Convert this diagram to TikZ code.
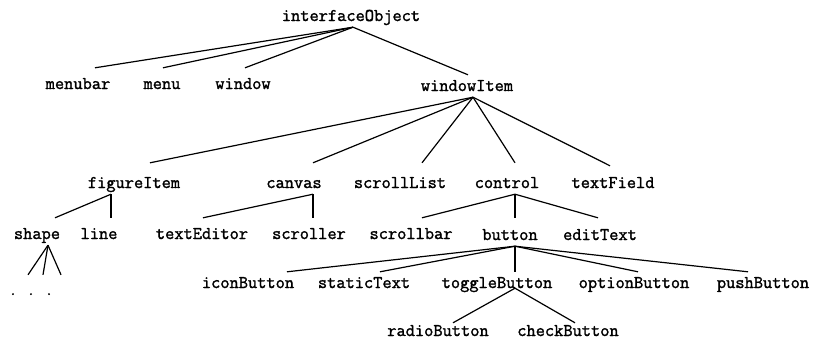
\documentclass[tikz,border=0pt]{standalone}
\usepackage{fontspec}
\newfontfamily\osztalyfont[FakeBold=1.6]{Latin Modern Mono}
\usepackage{tikz}

\begin{document}
\begin{tikzpicture}[x=1pt,y=-1pt,
osztaly/.style={inner sep=0pt,minimum height=22,text height=10,text depth=0,
 font=\osztalyfont\fontsize{17.9}{18}\selectfont
}]
\useasboundingbox (0,0) rectangle (813,343);

\node[osztaly](interfaceObject) at (351,16){interfaceObject};

\node[osztaly](menubar) at (78,84){menubar};
\node[osztaly](menu) at (162,84){menu};
\node[osztaly](window) at (243,84){window};
\node[osztaly](windowItem) at (467,86){windowItem};

\node[osztaly](figureItem) at (134,183){figureItem};
\node[osztaly](canvas) at (294,183){canvas};
\node[osztaly](scrollList) at (400,183){scrollList};
\node[osztaly](control) at (507,183){control};
\node[osztaly](textField) at (613,183){textField};

\node[osztaly](shape) at (37,234){shape};
\node[osztaly](line) at (99,234){line};
\node[osztaly](textEditor) at (202,234){textEditor};
\node[osztaly](scroller) at (309,234){scroller};
\node[osztaly](scrollbar) at (411,234){scrollbar};
\node[osztaly](button) at (510,235){button};
\node[osztaly](editText) at (600,235){editText};

\node[osztaly,font=\osztalyfont\fontsize{15}{15}\selectfont](dots) at (31,290){. . .};

\node[osztaly](iconButton) at (248,283){iconButton};
\node[osztaly](staticText) at (364,283){staticText};
\node[osztaly](toggleButton) at (497,283){toggleButton};
\node[osztaly](optionButton) at (634,283){optionButton};
\node[osztaly](pushButton) at (763,283){pushButton};

\node[osztaly](radioButton) at (438,331){radioButton};
\node[osztaly](checkButton) at (568,331){checkButton};

\begin{scope}[line width=1.2pt]
\draw ([xshift=2]interfaceObject.south)--([xshift=17,yshift=5]menubar.north);
\draw ([xshift=2]interfaceObject.south)--([xshift=1,yshift=5]menu.north);
\draw ([xshift=2]interfaceObject.south)--([xshift=2,yshift=5]window.north);
\draw ([xshift=2]interfaceObject.south)--([xshift=1]windowItem.north);

\draw ([xshift=6]windowItem.south)--([xshift=16,yshift=9]figureItem.north);
\draw ([xshift=6]windowItem.south)--([xshift=19,yshift=9]canvas.north);
\draw ([xshift=6]windowItem.south)--([xshift=22,yshift=9]scrollList.north);
\draw ([xshift=6]windowItem.south)--([xshift=8,yshift=9]control.north);
\draw ([xshift=6]windowItem.south)--([xshift=-3,yshift=6]textField.north);

\draw ([xshift=-23]figureItem.south)--([xshift=18,yshift=5]shape.north);
\draw ([xshift=-23]figureItem.south)--([xshift=12,yshift=5]line.north);
\draw ([xshift=19]canvas.south)--([xshift=1,yshift=5]textEditor.north);
\draw ([xshift=19]canvas.south)--([xshift=4,yshift=5]scroller.north);
\draw ([xshift=8]control.south)--([xshift=11,yshift=5]scrollbar.north);
\draw ([xshift=8]control.south)--([xshift=5,yshift=6]button.north);
\draw ([xshift=8]control.south)--([xshift=-2,yshift=6]editText.north);

\draw ([xshift=11]shape.south)--([xshift=-3,yshift=4]dots.north);
\draw ([xshift=11]shape.south)--([xshift=12,yshift=4]dots.north);
\draw ([xshift=11]shape.south)--([xshift=30,yshift=4]dots.north);

\draw ([xshift=5]button.south)--([xshift=39]iconButton.north);
\draw ([xshift=5]button.south)--([xshift=16]staticText.north);
\draw ([xshift=5]button.south)--([xshift=18]toggleButton.north);
\draw ([xshift=5]button.south)--([xshift=4]optionButton.north);
\draw ([xshift=5]button.south)--([xshift=-15]pushButton.north);

\draw ([xshift=18,yshift=6]toggleButton.south)--([xshift=15,yshift=-3]radioButton.north);
\draw ([xshift=18,yshift=6]toggleButton.south)--([xshift=7,yshift=-3]checkButton.north);
\end{scope}

\end{tikzpicture}
\end{document}
